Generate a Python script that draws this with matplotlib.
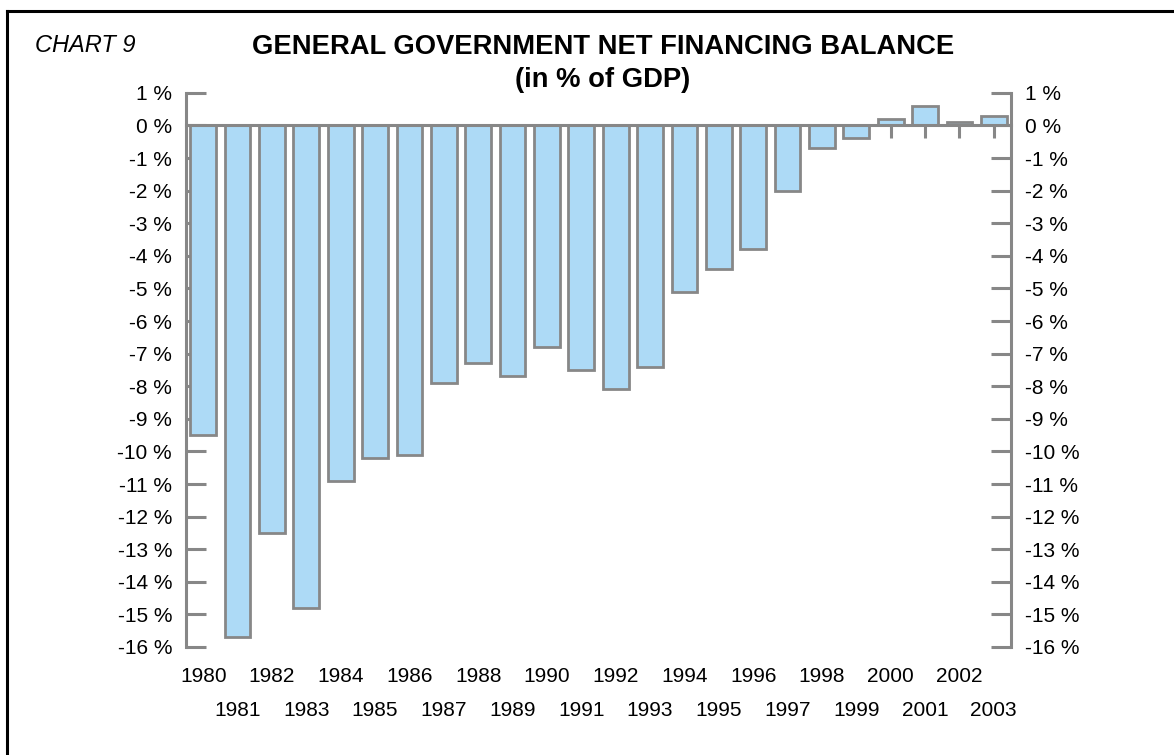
import matplotlib
matplotlib.use("Agg")
import matplotlib.pyplot as plt
from matplotlib.lines import Line2D
import matplotlib.transforms as mtransforms

plt.rcParams['font.family'] = ['Liberation Sans', 'DejaVu Sans']

# General government net financing balance, % of GDP
years = list(range(1980, 2004))
balance = [-9.5, -15.7, -12.5, -14.8, -10.9, -10.2, -10.1, -7.9, -7.3, -7.7,
           -6.8, -7.5, -8.1, -7.4, -5.1, -4.4, -3.8, -2.0, -0.7, -0.4,
           0.2, 0.6, 0.1, 0.3]
y_ticks = list(range(1, -17, -1))
y_labels = [f"{v} %" for v in y_ticks]

title = "GENERAL GOVERNMENT NET FINANCING BALANCE"
subtitle = "(in % of GDP)"
chart_label = "CHART 9"

W, H, DPI = 1174, 755, 100
fig = plt.figure(figsize=(W / DPI, H / DPI), dpi=DPI)
fig.patch.set_facecolor('white')

gray = '#878787'
fill = '#ADDAF6'

left, right = 186 / W, 1011 / W
top, bottom = 1 - 92.8 / H, 1 - 647 / H
ax = fig.add_axes([left, bottom, right - left, top - bottom])

x = list(range(len(years)))
ax.bar(x, balance, width=0.75, color=fill, edgecolor=gray, linewidth=2.0, zorder=2)

ax.set_xlim(-0.5, len(years) - 0.5)
ax.set_ylim(-16, 1)
ax.set_axisbelow(True)

ax.spines['top'].set_visible(False)
ax.spines['bottom'].set_position(('data', 0))
for side in ('left', 'right', 'bottom'):
    ax.spines[side].set_color(gray)
    ax.spines[side].set_linewidth(2.2)

ax.set_yticks(y_ticks)
ax.set_yticklabels(y_labels)
ax.tick_params(axis='y', which='both', direction='in', length=14.5, width=2.2,
               color=gray, labelsize=15, labelcolor='black', pad=10,
               left=True, right=True, labelleft=True, labelright=True)

ax.set_xticks(x)
ax.set_xticklabels([])
ax.tick_params(axis='x', direction='out', length=9.5, width=2.2, color=gray)

# Year labels in two staggered rows
trans = mtransforms.blended_transform_factory(ax.transData, ax.transAxes)
for i, yr in enumerate(years):
    off = -30 if i % 2 == 0 else -63
    t = mtransforms.offset_copy(trans, fig=fig, x=0, y=off * 72 / DPI, units='points')
    ax.text(i, 0, str(yr), transform=t, ha='center', va='center', fontsize=15)

# Titles
fig.text(603 / W, 1 - 54 / H, title, ha='center', va='baseline',
         fontsize=19.7, fontweight='bold')
fig.text(603 / W, 1 - 87 / H, subtitle, ha='center', va='baseline',
         fontsize=19.7, fontweight='bold')
fig.text(35 / W, 1 - 52 / H, chart_label, ha='left', va='baseline',
         fontsize=17, fontstyle='italic')

# Frame lines
fig.add_artist(Line2D([7 / W, 1], [1 - 10.7 / H, 1 - 10.7 / H], color='black',
                      linewidth=2.2, transform=fig.transFigure))
fig.add_artist(Line2D([7 / W, 7 / W], [0, 1 - 10.7 / H], color='black',
                      linewidth=2.2, transform=fig.transFigure))

fig.savefig('out.png', dpi=DPI)
